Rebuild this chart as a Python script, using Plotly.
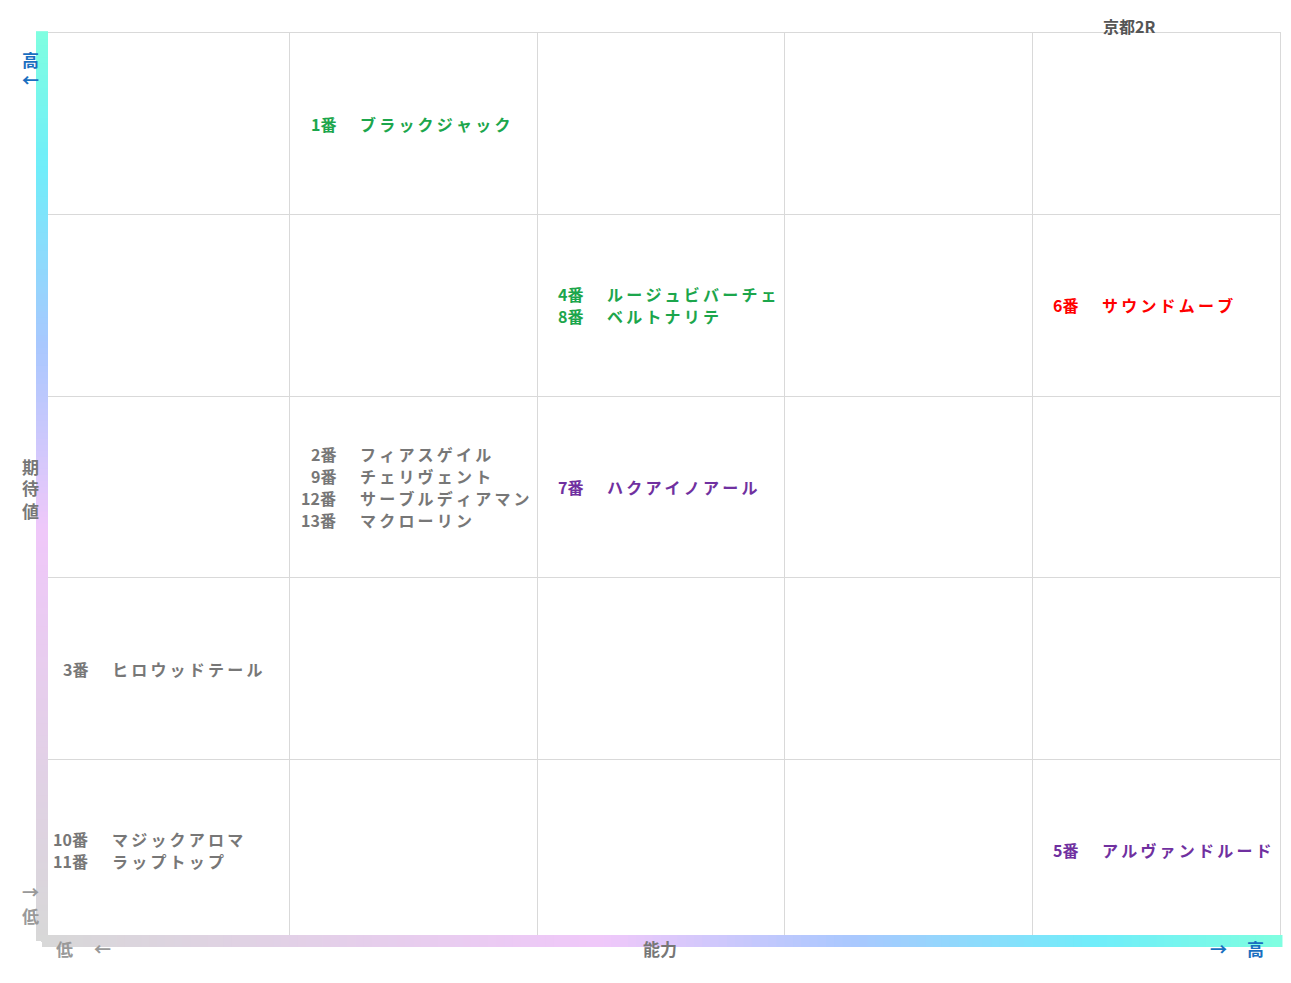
import plotly.graph_objects as go

# data
numbers = ["1番", "4番", "8番", "6番", "2番", "9番", "12番", "13番", "7番", "3番", "10番", "11番", "5番"]
names = ["ブラックジャック", "ルージュビバーチェ", "ベルトナリテ", "サウンドムーブ", "フィアスゲイル", "チェリヴェント",
         "サーブルディアマン", "マクローリン", "ハクアイノアール", "ヒロウッドテール", "マジックアロマ", "ラップトップ", "アルヴァンドルード"]
ability = [1, 2, 2, 4, 1, 1, 1, 1, 2, 0, 0, 0, 4]      # column 0..4 (low->high)
expect = [4, 3, 3, 3, 2, 2, 2, 2, 2, 1, 0, 0, 0]       # row 0..4 (low->high)
group = ["green", "green", "green", "red", "gray", "gray", "gray", "gray", "purple", "gray", "gray", "gray", "purple"]
colors = {"green": "#1ca64c", "red": "#ff0000", "purple": "#7030a0", "gray": "#777777"}

OFF = 8  # page body margin
W, H = 1275, 967
L, R, T, B = 34, 3, 25, 34
pw, ph = W - L - R, H - T - B
FONT = "Noto Sans CJK JP"

fig = go.Figure()
fig.add_trace(go.Scatter(x=[0, 5], y=[0, 5], mode="markers", marker=dict(opacity=0), hoverinfo="skip", showlegend=False))

cells = {}
for i in range(len(numbers)):
    cells.setdefault((ability[i], expect[i]), []).append(i)
line_h = 22 / ph * 5
for (c, r), idx in cells.items():
    n = len(idx)
    for k, i in enumerate(idx):
        y = r + 0.5 + ((n - 1) / 2 - k) * line_h
        col = colors[group[i]]
        fig.add_annotation(x=c + 48 / pw * 5, y=y, text=f"<b>{numbers[i]}</b>", xanchor="right", showarrow=False,
                           font=dict(family=FONT, size=16, color=col))
        fig.add_annotation(x=c + 68 / pw * 5, y=y, text="<b>" + "\u2009".join(names[i]) + "</b>", xanchor="left",
                           showarrow=False, font=dict(family=FONT, size=16, color=col))

# gradient axis bars
stops = [(0.0, (216, 216, 216)), (0.45, (240, 200, 250)), (0.65, (170, 200, 255)),
         (0.85, (112, 238, 250)), (1.0, (128, 255, 224))]
def cat(t):
    for (a, ca), (b, cb) in zip(stops, stops[1:]):
        if t <= b:
            f = (t - a) / (b - a)
            return "rgb(%d,%d,%d)" % tuple(int(ca[j] + (cb[j] - ca[j]) * f) for j in range(3))
    return "rgb(128,255,224)"
N = 150
for k in range(N):
    t0, t1 = k / N, (k + 1) / N + 0.002
    c = cat(k / N)
    fig.add_shape(type="rect", xref="paper", yref="paper", x0=t0, x1=t1, y0=-6 / ph, y1=6 / ph,
                  fillcolor=c, line_width=0, layer="above")
    fig.add_shape(type="rect", xref="paper", yref="paper", x0=-6 / pw, x1=6 / pw, y0=t0, y1=t1,
                  fillcolor=c, line_width=0, layer="above")

def pann(px, py, text, color, size=17):
    fig.add_annotation(x=(px - OFF - L) / pw, y=1 - (py - OFF - T) / ph, xref="paper", yref="paper",
                       text=f"<b>{text}</b>", showarrow=False, font=dict(family=FONT, size=size, color=color))

blue = "#1a6fc0"
grey = "#999999"
pann(1157, 12, "京都2R", "#555555", 16)
pann(20, 45, "高", blue, 17)
pann(20, 65, "←", blue, 17)
pann(20, 466, "期", "#777777", 17)
pann(20, 488, "待", "#777777", 17)
pann(20, 510, "値", "#777777", 17)
pann(20, 906, "→", grey, 17)
pann(20, 930, "低", grey, 17)
pann(54, 963, "低", grey, 17)
pann(92, 963, "←", grey, 17)
pann(660, 963, "能力", "#777777", 17)
pann(1229, 963, "→", blue, 17)
pann(1266, 963, "高", blue, 17)

axis = dict(range=[0, 5], dtick=1, showgrid=True, gridcolor="#d9d9d9", gridwidth=1, zeroline=False,
            showticklabels=False, ticks="", showline=True, linecolor="#d9d9d9", mirror=True, fixedrange=True)
fig.update_layout(width=W, height=H, margin=dict(l=L, r=R, t=T, b=B), plot_bgcolor="white", paper_bgcolor="white",
                  xaxis=axis, yaxis=axis, showlegend=False)
fig.write_html("out.html")
